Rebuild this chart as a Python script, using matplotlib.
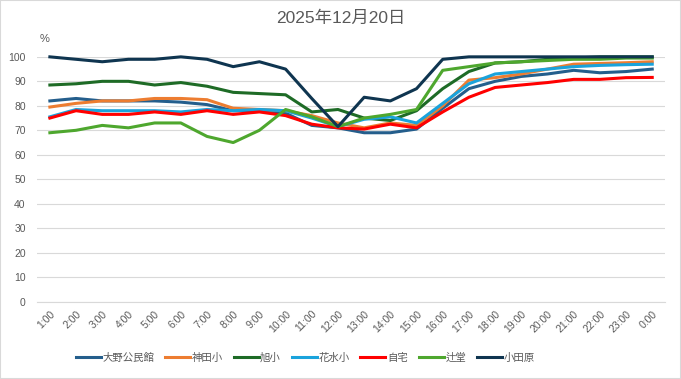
import matplotlib.pyplot as plt
from matplotlib.patches import Rectangle

plt.rcParams["font.family"] = ["Liberation Sans", "Noto Sans CJK JP", "DejaVu Sans"]

hours = [f"{h}:00" for h in range(1, 24)] + ["0:00"]

series_names = ["大野公民館", "神田小", "旭小", "花水小", "自宅", "辻堂", "小田原"]
oono = [82, 83, 82, 82, 82, 81.5, 80.5, 78, 78, 77, 72, 71, 69, 69, 70.5, 79, 87, 90, 92, 93, 94.5, 93.5, 94, 95]
kanda = [79.5, 81, 82, 82, 83, 83, 82.5, 79, 78.5, 78, 76, 73, 71, 73, 72, 80, 90.5, 91.5, 93, 95, 97, 97.3, 97.6, 98]
asahi = [88.5, 89, 90, 90, 88.5, 89.5, 88, 85.5, 85, 84.5, 77.5, 78.5, 75, 74, 78, 87, 94, 97.5, 98, 99, 99.5, 100, 100, 100]
hanamizu = [75.5, 78.5, 78, 78, 78, 77.5, 78.5, 78, 78.5, 78, 75, 71.5, 74.5, 75.5, 73, 81, 89, 93, 94, 95, 96, 96.5, 96.8, 97]
jitaku = [75, 78, 76.5, 76.5, 77.5, 76.5, 78, 76.5, 77.5, 76, 72.5, 71, 70.5, 72.5, 71, 77.5, 83.5, 87.5, 88.5, 89.5, 90.8, 90.8, 91.5, 91.6]
tsujido = [69, 70, 72, 71, 73, 73, 67.5, 65, 70, 78.5, 75.5, 71.5, 75, 76.5, 78.5, 94.5, 96, 97.5, 98, 98.5, 99, 99, 99.5, 99.5]
odawara = [100, 99, 98, 99, 99, 100, 99, 96, 98, 95, 83, 71.5, 83.5, 82, 87, 99, 100, 100, 100, 100, 100, 100, 100, 100]

colors = ["#245E8C", "#ED7D31", "#1E6B26", "#1AA3DC", "#FF0000", "#4EA72E", "#0F3550"]
text_color = "#595959"
grid_color = "#d9d9d9"

fig = plt.figure(figsize=(6.81, 3.79), dpi=100)
ax = fig.add_axes([0.054, 0.204, 0.923, 0.646])

x = list(range(len(hours)))
for name, vals, c in zip(series_names,
                         [oono, kanda, asahi, hanamizu, jitaku, tsujido, odawara],
                         colors):
    ax.plot(x, vals, color=c, lw=2.2, label=name, clip_on=False,
            solid_joinstyle="round")

ax.set_xlim(-0.5, len(hours) - 0.5)
ax.set_ylim(0, 100)
ax.set_yticks(range(0, 101, 10))
ax.set_xticks(x)
ax.set_xticklabels(hours, rotation=45, ha="right", rotation_mode="anchor")
ax.tick_params(axis="both", length=0, labelsize=7.5, labelcolor=text_color)
ax.tick_params(axis="y", pad=8)
ax.tick_params(axis="x", pad=5)
ax.grid(axis="y", color=grid_color, lw=0.8)
ax.set_axisbelow(True)
for s in ["top", "right", "left"]:
    ax.spines[s].set_visible(False)
ax.spines["bottom"].set_color(grid_color)
ax.spines["bottom"].set_linewidth(0.8)

fig.text(0.066, 0.888, "%", fontsize=8, color=text_color, ha="center")
fig.text(0.5, 0.952, "2025年12月20日", fontsize=12.5, color=text_color,
         ha="center", va="center")

fig.legend(loc="center", bbox_to_anchor=(0.448, 0.056), ncol=7, frameon=False,
           fontsize=7.5, labelcolor=text_color, handlelength=2.4,
           handletextpad=0.15, columnspacing=1.05)

fig.patches.append(Rectangle((0, 0), 1, 1, transform=fig.transFigure,
                             fill=False, edgecolor=grid_color, lw=1.5))

fig.savefig("out.png", dpi=100)
